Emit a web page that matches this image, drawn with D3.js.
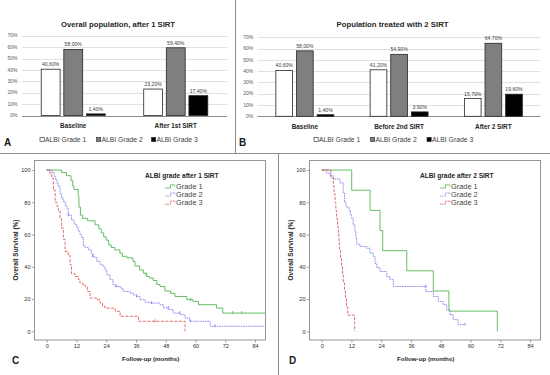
<!DOCTYPE html>
<html><head><meta charset="utf-8">
<script src="https://cdn.jsdelivr.net/npm/d3@7"></script>
<style>body{margin:0;background:#fff}svg{display:block;font-family:"Liberation Sans",Arial,sans-serif}</style>
</head><body><svg id="c" width="550" height="375"></svg>
<script>
// ---------- DATA ----------
const seriesNames = ["ALBI Grade 1","ALBI Grade 2","ALBI Grade 3"];
const barTicks = [0,0.1,0.2,0.3,0.4,0.5,0.6,0.7];
const catsA = ["Baseline","After 1st SIRT"];
const gradeA1 = [0.406,0.232];
const gradeA2 = [0.580,0.594];
const gradeA3 = [0.014,0.174];
const catsB = ["Baseline","Before 2nd SIRT","After 2 SIRT"];
const gradeB1 = [0.406,0.412,0.157];
const gradeB2 = [0.580,0.549,0.647];
const gradeB3 = [0.014,0.039,0.196];

const kmXTicks = [0,12,24,36,48,60,72,84];
const kmYTicks = [0,20,40,60,80,100];
const kmNames = ["Grade 1","Grade 2","Grade 3"];
// Kaplan-Meier steps [month, survival %]
const kmC1 = [[0,100],[6,98.5],[8,96.5],[9.8,93.5],[10.5,90],[11,88],[12.7,84],[13,77],[13.6,72],[14.5,70],[16.5,68.5],[19.5,66],[21,63.5],[22,61],[23,58.5],[24,56.5],[25,53.5],[26,52],[27.5,50.5],[29.5,48.5],[30.5,46.5],[32.3,45.5],[34.8,43.3],[35.6,40.5],[37.5,38],[39,36],[40.3,34],[41.5,33],[43,31.5],[44.4,29],[45.7,27.8],[47.7,25],[50,23.5],[51.7,21.6],[56.5,19.6],[59,18.5],[61.2,16.5],[68.5,14.4],[71,11.3],[88.3,11.3]];
const kmC2 = [[0,100],[2,98.5],[3,96],[3.6,94],[4.2,91.5],[4.7,89.7],[5.4,85],[6,82.5],[6.7,80.4],[7.5,78],[8.1,76.3],[8.7,72],[10,69],[11,67],[11.4,66],[12.2,64],[12.8,62],[13.4,60],[14.1,58],[14.8,53],[15.5,52],[16.8,50.5],[18,48],[18.8,46],[20.2,43.3],[21.5,41.2],[22.8,40],[23.5,38],[24.2,35],[25.5,32],[26.7,29],[27.6,27.8],[29.6,26.8],[30.7,25],[31.6,24.7],[33.6,23.7],[35,22.5],[36.3,21.6],[37.6,19.6],[39.7,18],[41.6,17.5],[45.7,16.5],[47,14.6],[49,13.5],[51,11.3],[53.8,10.3],[55.8,8.2],[57.8,6.2],[65.9,3.1],[88.3,3.1]];
const kmC3 = [[0,100],[1.3,97.5],[2,95],[2.7,87.6],[3.4,80],[4.2,77.5],[4.7,75],[5.4,70],[6,64],[6.7,57],[7.4,49.5],[8.7,47.4],[9.4,41.2],[10,35.7],[11.4,34],[12.8,32],[13.4,30],[14.5,29],[15.5,27.8],[16.4,24.7],[17.5,20.6],[20.2,19.6],[21.5,17.5],[22.5,15.5],[23.5,14.4],[27.6,12.4],[29.6,9.3],[37,6.2],[55.8,0]];
const censC1 = [[40,35],[58,19.6],[75,11.3],[78.6,11.3]];
const censC2 = [[8.7,72],[18.5,46.5],[28,27.8],[36.3,21.6],[42.3,17.5],[49,14.6],[53.7,11.3],[57.8,6.2],[67.9,3.1]];
const censC3 = [[43.7,6.2]];
const kmD1 = [[0,100],[12.1,87.5],[19.5,75],[23.5,62.5],[24.6,50],[34.3,37.5],[45,25],[51.3,12.5],[70.8,0]];
const kmD2 = [[0,100],[2,98],[3.5,96.5],[4.7,94.5],[7.4,92],[8.7,86],[9.2,80],[9.8,77],[11,75],[11.6,72],[12.1,70],[12.7,66],[13.4,62],[13.8,58],[14.1,54],[15.4,52.6],[18.1,51.5],[19.5,48.5],[20.8,46.4],[21.5,42],[22.2,39.5],[23.5,37.1],[26.2,34],[27.5,32],[28.9,27.8],[42,24.7],[45,21.6],[47,18.5],[49,16.5],[50.4,13.4],[51.7,10.3],[53,7.2],[55,4.1],[57.8,4.1]];
const kmD3 = [[0,100],[3.7,95],[4.7,90],[5,85],[5.4,80],[5.7,75],[6,70],[6.4,65],[6.7,60],[7,55],[7.2,50],[7.6,45],[8,40],[8.4,35],[8.7,30],[9.2,25],[9.6,20],[10,15],[10.5,10],[13.3,0]];
const censD1 = [];
const censD2 = [[42,27.8],[57.8,4.1]];
const censD3 = [];

// ---------- DRAW ----------
const svg = d3.select("#c");
const fmtPct = v => (v*100).toFixed(2).replace(".",",") + "%";
const barFill = ["#ffffff","#7f7f7f","#000000"];
const kmColor = ["#52b852","#8080ee","#e25a5a"];
const kmDash = [null,"1.6,0.8","3,1.5"];

// separators
svg.append("line").attr("x1",235.5).attr("x2",235.5).attr("y1",0).attr("y2",153.5).attr("stroke","#8c8c8c").attr("stroke-width",1);
svg.append("line").attr("x1",0).attr("x2",550).attr("y1",153.5).attr("y2",153.5).attr("stroke","#8c8c8c").attr("stroke-width",1);
svg.append("line").attr("x1",278.5).attr("x2",278.5).attr("y1",153.5).attr("y2",375).attr("stroke","#8c8c8c").attr("stroke-width",1);

function barPanel(cfg){
  const g = svg.append("g");
  const y = d3.scaleLinear().domain([0,0.7]).range([cfg.y0,cfg.y1]);
  const x0 = d3.scaleBand().domain(cfg.cats).range([cfg.xl,cfg.xr]);
  const bw = x0.bandwidth(), gw = bw*cfg.groupFrac;
  const x1 = d3.scaleBand().domain([0,1,2]).range([0,gw]).paddingInner(cfg.inner);
  // grid
  g.selectAll(".grid").data(barTicks.slice(1)).join("line")
    .attr("x1",cfg.xl).attr("x2",cfg.xr).attr("y1",d=>Math.round(y(d))+0.5).attr("y2",d=>Math.round(y(d))+0.5)
    .attr("stroke","#d9d9d9").attr("stroke-width",0.8);
  g.append("line").attr("x1",cfg.xl).attr("x2",cfg.xr).attr("y1",Math.round(y(0))+0.5).attr("y2",Math.round(y(0))+0.5)
    .attr("stroke","#7f7f7f").attr("stroke-width",0.9);
  g.selectAll(".yl").data(barTicks).join("text")
    .attr("x",cfg.xl-4.5).attr("y",d=>y(d)+1.7).attr("text-anchor","end")
    .attr("font-size",5).attr("fill","#595959").text(d=>Math.round(d*100)+"%");
  const series=[cfg.s1,cfg.s2,cfg.s3];
  cfg.cats.forEach((c,ci)=>{
    const gx = x0(c) + (bw-gw)/2;
    series.forEach((s,si)=>{
      const v=s[ci];
      g.append("rect").attr("x",gx+x1(si)).attr("y",y(v)).attr("width",x1.bandwidth()).attr("height",y(0)-y(v))
        .attr("fill",barFill[si]).attr("stroke","#262626").attr("stroke-width",0.8);
      g.append("text").attr("x",gx+x1(si)+x1.bandwidth()/2).attr("y",y(v)-3).attr("text-anchor","middle")
        .attr("font-size",5.1).attr("fill","#404040").text(fmtPct(v));
    });
    g.append("text").attr("x",x0(c)+bw/2).attr("y",cfg.catY).attr("text-anchor","middle")
      .attr("font-size",6.4).attr("font-weight","bold").attr("fill","#262626").text(c);
  });
  g.append("text").attr("x",cfg.titleX).attr("y",26.5).attr("text-anchor","middle")
    .attr("font-size",7.8).attr("font-weight","bold").attr("fill","#262626")
    .attr("textLength",cfg.titleW).attr("lengthAdjust","spacingAndGlyphs").text(cfg.title);
  // legend
  cfg.legX.forEach((lx,i)=>{
    g.append("rect").attr("x",lx).attr("y",137.4).attr("width",4.2).attr("height",4.2)
      .attr("fill",barFill[i]).attr("stroke","#262626").attr("stroke-width",0.6);
    g.append("text").attr("x",lx+5).attr("y",142.2).attr("font-size",6.8).attr("fill","#404040").text(seriesNames[i]);
  });
  g.append("text").attr("x",cfg.letterX).attr("y",146).attr("font-size",10).attr("font-weight","bold").attr("fill","#1a1a1a").text(cfg.letter);
}

barPanel({cats:catsA,s1:gradeA1,s2:gradeA2,s3:gradeA3,xl:22,xr:227,y0:115.5,y1:35.7,groupFrac:0.625,inner:0.165,
  catY:128,title:"Overall population, after 1 SIRT",titleX:118,titleW:114,legX:[40,96.5,151.5],letter:"A",letterX:4});
barPanel({cats:catsB,s1:gradeB1,s2:gradeB2,s3:gradeB3,xl:257.7,xr:540.5,y0:116.3,y1:37.3,groupFrac:0.615,inner:0.19,
  catY:128.5,title:"Population treated with 2 SIRT",titleX:392.5,titleW:112,legX:[314,370.5,427],letter:"B",letterX:239});

function kmPanel(cfg){
  const ox=cfg.ox;
  const g = svg.append("g");
  const x = d3.scaleLinear().domain([-5,88.3]).range([ox+34.3,ox+265.7]);
  const y = d3.scaleLinear().domain([-5.4,105.8]).range([340,160.7]);
  g.append("rect").attr("x",ox+34.5).attr("y",160.5).attr("width",231).attr("height",179.5)
    .attr("fill","#fff").attr("stroke","#8a8a8a").attr("stroke-width",0.9);
  const ax = g.append("g").attr("transform",`translate(0,340)`)
    .call(d3.axisBottom(x).tickValues(kmXTicks).tickSize(2.5).tickPadding(2));
  const ay = g.append("g").attr("transform",`translate(${ox+34.5},0)`)
    .call(d3.axisLeft(y).tickValues(kmYTicks).tickSize(2.5).tickPadding(1.5));
  [ax,ay].forEach(a=>{
    a.select(".domain").remove();
    a.selectAll("line").attr("stroke","#8a8a8a").attr("stroke-width",0.8);
    a.selectAll("text").attr("font-size",5.6).attr("fill","#333").attr("font-family","Liberation Sans, Arial, sans-serif");
  });
  const line = d3.line().x(d=>x(d[0])).y(d=>y(d[1])).curve(d3.curveStepAfter);
  cfg.curves.forEach((c,i)=>{
    g.append("path").attr("d",line(c)).attr("fill","none").attr("stroke",kmColor[i]).attr("stroke-width",0.9)
      .attr("stroke-dasharray",kmDash[i]);
    g.selectAll(null).data(cfg.cens[i]).join("line")
      .attr("x1",d=>x(d[0])).attr("x2",d=>x(d[0])).attr("y1",d=>y(d[1])-2).attr("y2",d=>y(d[1])+1)
      .attr("stroke",kmColor[i]).attr("stroke-width",0.8);
  });
  // labels
  g.append("text").attr("x",ox+150.7).attr("y",361).attr("text-anchor","middle").attr("font-size",6.2)
    .attr("font-weight","bold").attr("fill","#262626").text("Follow-up (months)");
  g.append("text").attr("transform",`translate(${ox+17.5},250) rotate(-90)`).attr("text-anchor","middle").attr("font-size",6.5)
    .attr("font-weight","bold").attr("fill","#262626").text("Overall Survival (%)");
  g.append("text").attr("x",ox+cfg.letterDX).attr("y",364).attr("font-size",10).attr("font-weight","bold").attr("fill","#1a1a1a").text(cfg.letter);
  // legend
  const lx = ox+145, ly=178;
  g.append("text").attr("x",lx).attr("y",ly).attr("font-size",6.6).attr("font-weight","bold").attr("fill","#262626").text(cfg.legTitle);
  kmNames.forEach((n,i)=>{
    const yy = 187.8 + i*8.1;
    g.append("path").attr("d",`M${ox+165},${yy+0.2}H${ox+170.5}V${yy-3}H${ox+174}M${ox+174.8},${yy-3.3}V${yy-1.2}`)
      .attr("fill","none").attr("stroke",kmColor[i]).attr("stroke-width",0.8).attr("stroke-dasharray",kmDash[i]?"1.5,0.7":null);
    g.append("text").attr("x",ox+176).attr("y",yy+0.8).attr("font-size",7.4).attr("fill","#444").text(n);
  });
}
kmPanel({ox:0,curves:[kmC1,kmC2,kmC3],cens:[censC1,censC2,censC3],legTitle:"ALBI grade after 1 SIRT",letter:"C",letterDX:12});
kmPanel({ox:275,curves:[kmD1,kmD2,kmD3],cens:[censD1,censD2,censD3],legTitle:"ALBI grade after 2 SIRT",letter:"D",letterDX:14});
</script></body></html>
